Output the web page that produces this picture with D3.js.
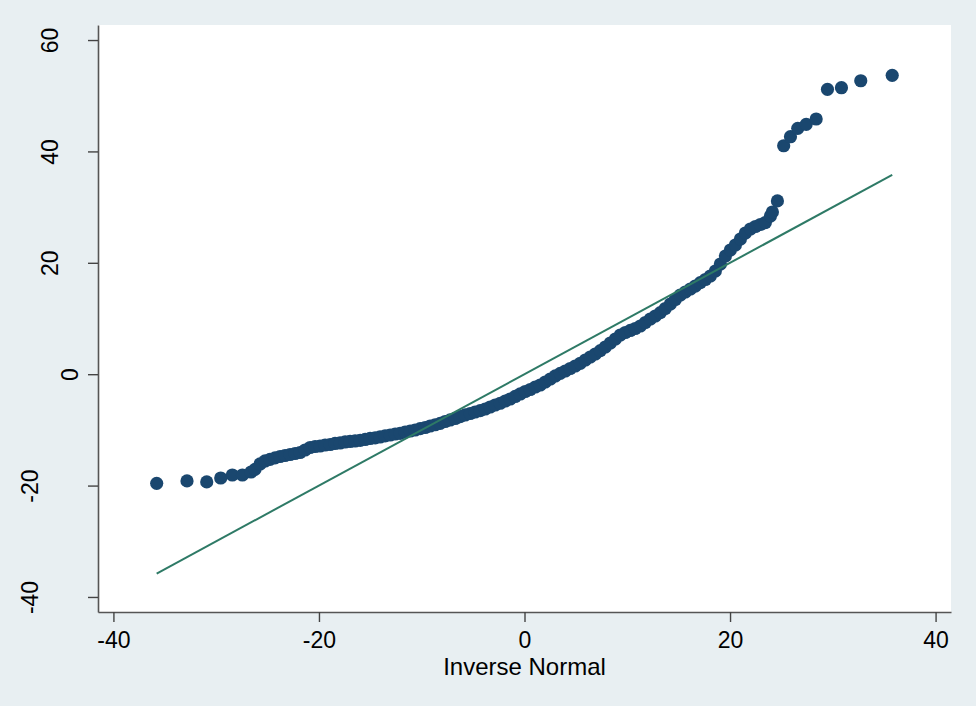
<!DOCTYPE html>
<html>
<head>
<meta charset="utf-8">
<script src="https://cdn.jsdelivr.net/npm/d3@7"></script>
<style>
  body { margin: 0; background: #e8eff2; }
  svg { display: block; }
  text { font-family: "Liberation Sans", Arial, sans-serif; fill: #000; }
</style>
</head>
<body>
<svg id="chart" width="976" height="706"></svg>
<script>
// inverse normal quantiles (x) and sorted values (y)
let invNormal = [
  -35.79, -32.84, -30.92, -29.56, -28.43, -27.45, -26.61,
  -26.22, -25.73, -25.24, -24.76, -24.27, -23.78, -23.30, -22.81, -22.32, -21.84,
  -21.35, -20.86, -20.37, -19.89, -19.40, -18.91, -18.43, -17.94, -17.45, -16.97,
  -16.48, -15.99, -15.50, -15.02, -14.53, -14.05, -13.56, -13.07, -12.58, -12.10,
  -11.61, -11.12, -10.64, -10.15, -9.66, -9.18, -8.69, -8.20, -7.72, -7.23,
  -6.74, -6.26, -5.77, -5.28, -4.80, -4.31, -3.82, -3.34, -2.85, -2.36,
  -1.87, -1.39, -0.90, -0.41, 0.07, 0.56, 1.05, 1.53, 2.02, 2.51,
  3.00, 3.48, 3.97, 4.45, 4.94, 5.43, 5.92, 6.40, 6.89, 7.38,
  7.86, 8.35, 8.84, 9.32, 9.81, 10.30, 10.78, 11.27, 11.76, 12.24,
  12.73, 13.22, 13.70, 14.19, 14.68, 15.16, 15.65, 16.14, 16.62, 17.11,
  17.60, 18.08, 18.57, 19.06, 19.55, 20.03, 20.52, 21.01, 21.49, 21.98,
  22.47, 22.95, 23.44, 23.93, 24.12, 24.61,
  25.22, 25.88, 26.59, 27.41, 28.38, 29.48, 30.84, 32.72, 35.78
];
let values = [
  -19.59, -19.17, -19.35, -18.64, -18.10, -18.10, -17.56,
  -17.09, -16.12, -15.58, -15.31, -15.04, -14.78, -14.60, -14.42, -14.24, -14.06,
  -13.61, -13.16, -12.98, -12.89, -12.71, -12.62, -12.44, -12.35, -12.17, -12.08,
  -11.99, -11.87, -11.72, -11.54, -11.42, -11.27, -11.09, -10.92, -10.74, -10.61,
  -10.38, -10.20, -10.02, -9.78, -9.57, -9.30, -9.08, -8.82, -8.49, -8.22,
  -7.95, -7.63, -7.32, -7.06, -6.79, -6.55, -6.25, -5.89, -5.53, -5.22,
  -4.81, -4.45, -4.00, -3.55, -3.11, -2.75, -2.30, -1.94, -1.40, -0.86,
  -0.32, 0.16, 0.57, 1.02, 1.47, 1.96, 2.55, 3.09, 3.63, 4.22,
  4.88, 5.60, 6.32, 7.04, 7.49, 7.85, 8.20, 8.65, 9.28, 9.91,
  10.45, 11.04, 11.80, 12.60, 13.41, 14.22, 14.76, 15.30, 15.83, 16.43,
  17.00, 17.63, 18.53, 19.78, 21.22, 22.30, 23.20, 24.27, 25.35, 26.07,
  26.52, 26.88, 27.23, 28.40, 29.12, 31.11,
  41.02, 42.64, 44.15, 44.87, 45.82, 51.15, 51.44, 52.69, 53.66
];
let xTicks = [-40, -20, 0, 20, 40];
let yTicks = [-40, -20, 0, 20, 40, 60];
let xTitle = "Inverse Normal";

let svg = d3.select("#chart");
let plotL = 98, plotR = 951, plotT = 25, plotB = 612;

let x = d3.scaleLinear().domain([-41.5, 41.5]).range([plotL, plotR]);
let y = d3.scaleLinear().domain([-42.7, 62.7]).range([plotB, plotT]);

// plot region
svg.append("rect")
  .attr("x", plotL).attr("y", plotT)
  .attr("width", plotR - plotL).attr("height", plotB - plotT)
  .attr("fill", "#fff");

let points = invNormal.map((d, i) => [d, values[i]]);

svg.append("g")
  .selectAll("circle")
  .data(points)
  .join("circle")
  .attr("cx", d => x(d[0]))
  .attr("cy", d => y(d[1]))
  .attr("r", 6.6)
  .attr("fill", "#1a476f");

// reference line y = x over the range of the quantiles
let ext = d3.extent(invNormal);
svg.append("line")
  .attr("x1", x(ext[0])).attr("y1", y(ext[0]))
  .attr("x2", x(ext[1])).attr("y2", y(ext[1]))
  .attr("stroke", "#2e7a66")
  .attr("stroke-width", 2);

// axes (plain hyphen for negatives, like the original)
let fmt = d => String(d);
let xAxis = svg.append("g")
  .attr("transform", `translate(0,${plotB})`)
  .call(d3.axisBottom(x).tickValues(xTicks).tickSize(10).tickSizeOuter(0).tickFormat(fmt));
let yAxis = svg.append("g")
  .attr("transform", `translate(${plotL},0)`)
  .call(d3.axisLeft(y).tickValues(yTicks).tickSize(10).tickSizeOuter(0).tickFormat(fmt));

[xAxis, yAxis].forEach(a => {
  a.select(".domain").attr("stroke", "#555").attr("stroke-width", 1.6);
  a.selectAll(".tick line").attr("stroke", "#444").attr("stroke-width", 1.4);
  a.selectAll("text").attr("font-size", 23).attr("font-family", "Liberation Sans, Arial, sans-serif").attr("fill", "#000");
});

xAxis.selectAll("text").attr("dy", null).attr("y", 36);

// vertical labels: longer labels sit further from the axis, as in the original
yAxis.selectAll("text")
  .attr("x", null).attr("dy", null)
  .attr("text-anchor", "middle")
  .attr("transform", d => `translate(${-20 - 20 * (fmt(d).length - 1)},0) rotate(-90)`);

svg.append("text")
  .attr("x", x(0))
  .attr("y", 675)
  .attr("text-anchor", "middle")
  .attr("font-size", 24)
  .text(xTitle);
</script>
</body>
</html>
